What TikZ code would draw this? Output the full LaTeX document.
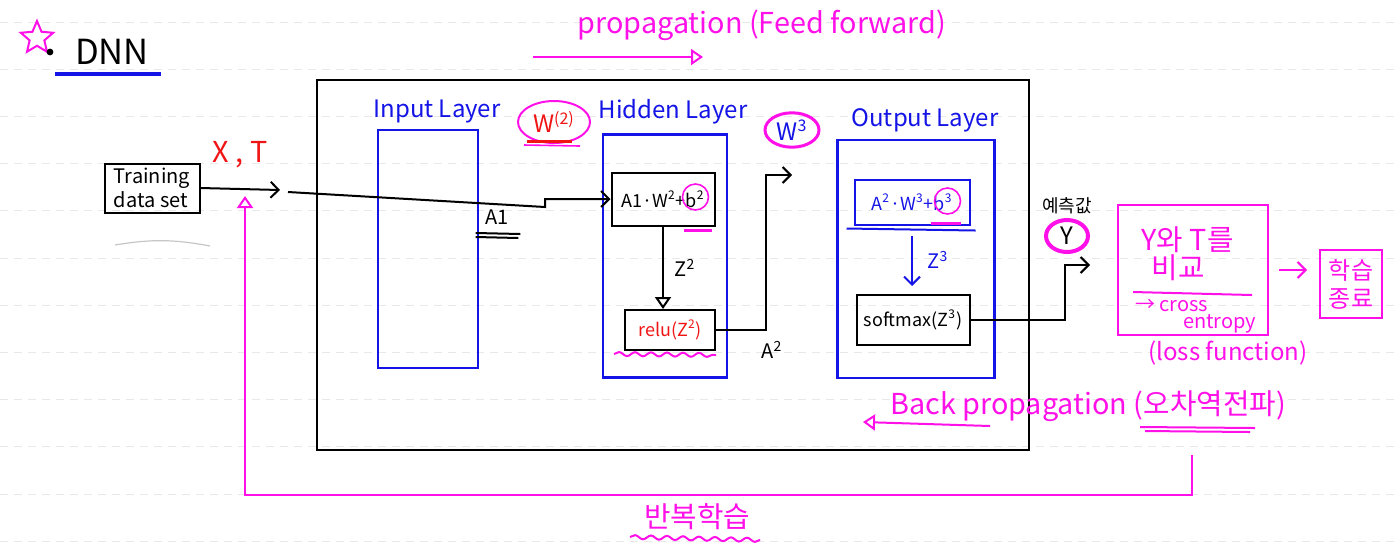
\documentclass[tikz,border=0pt]{standalone}
\usepackage{fontspec}
\setmainfont{Noto Sans CJK KR}
\usepackage{xcolor}
\usetikzlibrary{arrows.meta, calc, positioning, shapes.geometric, decorations.pathmorphing}
\definecolor{pen}{HTML}{FF10E8}
\definecolor{ink}{HTML}{1414E6}
\definecolor{redink}{HTML}{F01414}

\begin{document}
\begin{tikzpicture}[x=0.5pt, y=-0.5pt, line width=1pt,
  layerbox/.style={draw=ink, line width=1.1pt},
  calcbox/.style={draw=black, inner sep=2pt, font=\small},
  flow/.style={-{Straight Barb[length=4pt,width=8pt]}},
  opentip/.style={-{Triangle[open,length=6pt,width=8pt]}},
  ring/.style={ellipse, draw=pen, inner sep=1pt},
  wave/.style={decorate, decoration={snake, amplitude=1pt, segment length=8pt}}]
\useasboundingbox (0,0) rectangle (1396,559);
% notebook lines
\foreach \k in {0,...,11}
  \draw[gray!18, line width=0.5pt, dash pattern=on 4pt off 3pt] (0,22+47.2*\k) -- (1396,22+47.2*\k);
% title
\node[star, star points=5, star point ratio=2.2, draw=pen, minimum size=17pt, inner sep=0pt] (star) at (37,38) {};
\node[circle, fill=black, inner sep=1.2pt] (dot) at (50,52) {};
\node[font=\LARGE] (dnn) at (112,52) {DNN};
\draw[ink, line width=2pt] ($(dnn.south west)+(-12,2)$) -- ($(dnn.south east)+(4,2)$);
% forward direction
\node[text=pen, font=\Large] (ff) at (762,25) {propagation (Feed forward)};
\coordinate (ffL) at (533,57);
\coordinate (ffR) at (703,57);
\draw[pen, opentip] (ffL) -- (ffR);
% network frame
\node[draw=black, minimum width=356pt, minimum height=185pt] (net) at (673,265) {};
% input layer
\node[text=ink, font=\large] (inlab) at (437,112) {Input Layer};
\node[layerbox, minimum width=50pt, minimum height=119pt] (inbox) at (428,249) {};
\node[ring, line width=1pt, text=redink, font=\large, minimum width=36pt, minimum height=21pt] (w2) at (554,122) {W\textsuperscript{(2)}};
\draw[redink, line width=1.5pt] (527,141) -- (572,141);
\draw[pen, line width=0.8pt] (524,145) -- (580,146);
% hidden layer
\node[text=ink, font=\large] (hidlab) at (673,112) {Hidden Layer};
\node[layerbox, minimum width=62pt, minimum height=121.5pt] (hidbox) at (665,256) {};
\node[calcbox, minimum width=51.5pt, minimum height=26.5pt] (lin2) at (663,199) {A1·W\textsuperscript{2}+b\textsuperscript{2}};
\node[circle, draw=pen, line width=0.8pt, minimum size=13pt] (b2) at ($(lin2.east)+(-20,-2)$) {};
\draw[pen, line width=1.5pt] ($(lin2.south east)+(-32,4)$) -- ($(lin2.south east)+(-4,4)$);
\node[calcbox, text=redink, minimum width=45pt, minimum height=20pt] (relu) at (670,330) {relu(Z\textsuperscript{2})};
\draw[pen, wave] ($(relu.south west)+(-10,3)$) -- ($(relu.south east)+(0,4)$);
\draw[opentip] (lin2.south) -- (lin2.south |- relu.north) node[midway, right=2pt] {Z\textsuperscript{2}};
% output layer
\node[ring, line width=1.5pt, text=ink, font=\large, minimum width=27pt, minimum height=17pt] (w3) at (792,130) {W\textsuperscript{3}};
\node[text=ink, font=\large] (outlab) at (925,120) {Output Layer};
\node[layerbox, minimum width=78.5pt, minimum height=119pt] (outbox) at (916,259) {};
\node[calcbox, draw=ink, text=ink, minimum width=57.5pt, minimum height=22.5pt] (lin3) at (912,202) {A\textsuperscript{2}·W\textsuperscript{3}+b\textsuperscript{3}};
\node[circle, draw=pen, line width=0.8pt, minimum size=13pt] (b3) at ($(lin3.east)+(-23,-1)$) {};
\draw[pen, line width=1.5pt] ($(lin3.south east)+(-40,-2)$) -- ($(lin3.south east)+(-10,-2)$);
\draw[ink] ($(lin3.south west)+(-7,3)$) -- ($(lin3.south east)+(5,5)$);
\node[calcbox, minimum width=56.5pt, minimum height=25pt] (soft) at (913,320) {softmax(Z\textsuperscript{3})};
\draw[ink, flow, shorten <=5pt, shorten >=4pt] (lin3.south) -- (lin3.south |- soft.north) node[midway, right=4pt] {Z\textsuperscript{3}};
% data in
\node[calcbox, font=\normalsize, align=left, minimum width=47.5pt, minimum height=24.5pt] (train) at (152,188) {Training\\data set};
\draw[gray!45, line width=0.6pt] (115,245) to[bend left=10] (210,246);
\node[text=redink, font=\Large] (xt) at (240,155) {X , T};
\coordinate (xin) at (280,190);
\draw[flow] (train.east) -- (xin);
\coordinate (a1s) at (288,192);
\draw[flow] (a1s) -- (545,207) |- (lin2.west);
\node (a1) at (497,217) {A1};
\draw ($(a1.south west)+(-2,1)$) -- ($(a1.south east)+(4,2)$);
\draw ($(a1.south west)+(-2,5)$) -- ($(a1.south east)+(2,6)$);
% hidden -> output
\coordinate (a2out) at (792,175);
\draw[flow] (relu.east) -- ++(50,0) |- (a2out);
\node (a2) at (772,350) {A\textsuperscript{2}};
% prediction
\node[ellipse, draw=pen, line width=2pt, minimum width=21pt, minimum height=16pt, inner sep=1pt, font=\large] (yhat) at (1067,236) {Y};
\node[font=\small, above=-2pt of yhat] (pred) {예측값};
\coordinate (yin) at (1090,265);
\draw[flow] (soft.east) -- ++(94,0) |- (yin);
% loss
\node[draw=pen, minimum width=75pt, minimum height=65pt] (loss) at (1193,270) {};
\node[text=pen, font=\Large, anchor=west] (cmp1) at (1134,240) {Y와 T를};
\node[text=pen, font=\Large, anchor=west] (cmp2) at (1144,268) {비교};
\draw[pen] (1133,292) -- (1252,295);
\node[text=pen, anchor=west, inner sep=1pt] (ce1) at (1132,305) {→ cross};
\node[text=pen, anchor=west, inner sep=1pt] (ce2) at (1180,324) {entropy};
\node[text=pen, font=\large] (lf) at (1228,353) {(loss function)};
\node[draw=pen, text=pen, align=center, font=\large, minimum width=31pt, minimum height=34pt, inner sep=1pt] (stop) at (1351,284) {학습\\종료};
\draw[pen, flow, shorten <=5pt, shorten >=6pt] (loss.east) -- (loss.east -| stop.west);
% back propagation
\node[text=pen, font=\Large] (bp) at (1088,406) {Back propagation (오차역전파)};
\coordinate (bpR) at (990,426);
\coordinate (bpL) at (863,422);
\draw[pen, opentip] (bpR) -- (bpL);
\draw[pen] (1140,427) -- (1255,428);
\draw[pen] (1145,431) -- (1250,432);
% repeat loop
\coordinate (loopS) at (1192,455);
\coordinate (loopE) at (245,196);
\draw[pen, opentip] (loopS) -- (1192,495) -| (loopE);
\node[text=pen, font=\Large] (rep) at (697,517) {반복학습};
\draw[pen, wave] (630,537) -- (760,540);
\end{tikzpicture}
\end{document}
